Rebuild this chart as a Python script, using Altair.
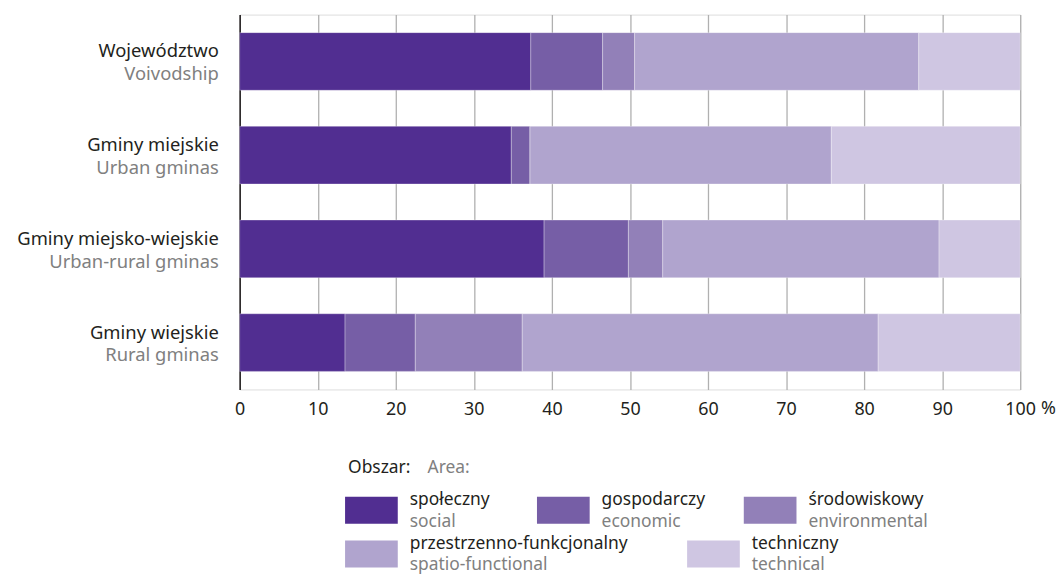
import altair as alt
import pandas as pd

# ---- data -------------------------------------------------------------
categories_pl = ["Województwo", "Gminy miejskie", "Gminy miejsko-wiejskie", "Gminy wiejskie"]
categories_en = ["Voivodship", "Urban gminas", "Urban-rural gminas", "Rural gminas"]

areas_pl = ["społeczny", "gospodarczy", "środowiskowy", "przestrzenno-funkcjonalny", "techniczny"]
areas_en = ["social", "economic", "environmental", "spatio-functional", "technical"]
area_colors = ["#512E91", "#765EA6", "#9280B8", "#B0A4CE", "#CFC6E2"]

social = [37.3, 34.8, 39.0, 13.5]
economic = [9.2, 2.4, 10.8, 9.0]
environmental = [4.1, 0.0, 4.4, 13.7]
spatio_functional = [36.4, 38.6, 35.4, 45.6]
technical = [13.0, 24.2, 10.4, 18.2]

x_ticks = [0, 10, 20, 30, 40, 50, 60, 70, 80, 90, 100]

series = [social, economic, environmental, spatio_functional, technical]

rows = []
for ai, vals in enumerate(series):
    for ci, v in enumerate(vals):
        rows.append({"cat": categories_pl[ci], "area": areas_pl[ai], "idx": ai, "value": v})
df = pd.DataFrame(rows)

lab = pd.DataFrame({"cat": categories_pl, "en": categories_en})

# ---- layout constants ---------------------------------------------------
W, H = 785, 377
FONT = "Noto Sans"
DARK = "#231f20"
GREY = "#808080"
FS = 18.5    # category labels
LFS = 17.5   # legend text

y_enc = alt.Y(
    "cat:N",
    sort=categories_pl,
    scale=alt.Scale(paddingInner=0.385, paddingOuter=0.1925),
    axis=alt.Axis(labels=False, ticks=False, grid=False, title=None,
                  domain=True, domainColor=DARK, domainWidth=1.5),
)

bars = alt.Chart(df).mark_bar(stroke="white", strokeWidth=0.6, strokeOpacity=0.5).encode(
    x=alt.X("value:Q", stack="zero",
            scale=alt.Scale(domain=[0, 100], nice=False),
            axis=alt.Axis(values=x_ticks, title=None, grid=True, gridColor="#b0b0b0",
                          gridWidth=1.3, domain=False, ticks=False, labelPadding=11,
                          labelFlush=False, labelFontSize=18, labelColor=DARK, labelFont=FONT)),
    y=y_enc,
    color=alt.Color("area:N", scale=alt.Scale(domain=areas_pl, range=area_colors), legend=None),
    order=alt.Order("idx:Q"),
)

pl_labels = alt.Chart(lab).mark_text(align="right", baseline="alphabetic", dy=-4,
                                     fontSize=FS, font=FONT, color=DARK).encode(
    x=alt.value(-21), y=y_enc, text="cat:N")
en_labels = alt.Chart(lab).mark_text(align="right", baseline="alphabetic", dy=19,
                                     fontSize=FS, font=FONT, color=GREY).encode(
    x=alt.value(-21), y=y_enc, text="en:N")

pct = alt.Chart(pd.DataFrame({"t": ["%"]})).mark_text(
    align="left", baseline="top", dx=21, fontSize=18, font=FONT, color=DARK).encode(
    x=alt.datum(100), y=alt.value(H + 11), text="t:N")

# ---- custom bilingual legend ---------------------------------------------
one = pd.DataFrame({"k": [0]})
legend_layers = [
    alt.Chart(one).mark_text(align="left", baseline="alphabetic", fontSize=LFS, font=FONT,
                             color=DARK).encode(x=alt.value(109), y=alt.value(461),
                                                text=alt.value("Obszar:")),
    alt.Chart(one).mark_text(align="left", baseline="alphabetic", fontSize=LFS, font=FONT,
                             color=GREY).encode(x=alt.value(189), y=alt.value(461),
                                                text=alt.value("Area:")),
]
slots = [(106, 485), (299, 485), (507, 485), (106, 529), (450, 529)]
for i, (sx, sy) in enumerate(slots):
    legend_layers.append(
        alt.Chart(one).mark_rect(color=area_colors[i]).encode(
            x=alt.value(sx), x2=alt.value(sx + 53), y=alt.value(sy), y2=alt.value(sy + 27)))
    legend_layers.append(
        alt.Chart(one).mark_text(align="left", baseline="alphabetic", fontSize=LFS, font=FONT,
                                 color=DARK).encode(x=alt.value(sx + 65), y=alt.value(sy + 8),
                                                    text=alt.value(areas_pl[i])))
    legend_layers.append(
        alt.Chart(one).mark_text(align="left", baseline="alphabetic", fontSize=LFS, font=FONT,
                                 color=GREY).encode(x=alt.value(sx + 65), y=alt.value(sy + 30),
                                                    text=alt.value(areas_en[i])))

chart = alt.layer(bars, pl_labels, en_labels, pct, *legend_layers).properties(
    width=W, height=H,
    autosize=alt.AutoSizeParams(type="none"),
    padding={"left": 233, "top": 5, "right": 36, "bottom": 186},
).configure_view(stroke=None).configure(font=FONT)

chart.save("out.html", embed_options={"renderer": "svg", "actions": False})
